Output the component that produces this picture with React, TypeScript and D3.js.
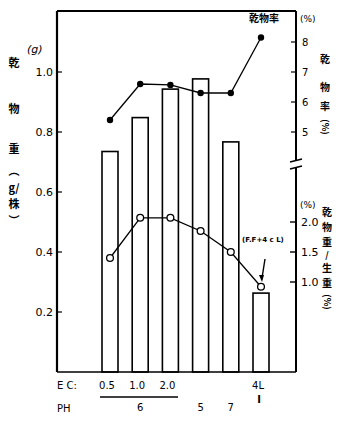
import * as d3 from "d3";

// categories (EC / pH treatments)
const categories = ["a", "b", "c", "d", "e", "f"];
const ecLabels = ["0.5", "1.0", "2.0", "", "", "4L"];
const phLabels = ["", "6", "", "5", "7", "I"];

// dry weight per plant (g) - bars, left axis
const dryWeight = [0.735, 0.848, 0.943, 0.977, 0.767, 0.263];
// dry matter ratio (%) - filled dots, upper right axis
const dryRatio = [5.4, 6.6, 6.57, 6.3, 6.3, 8.15];
// lower series (%) - open circles, lower right axis
const lowerRatio = [1.4, 2.07, 2.07, 1.85, 1.5, 0.92];

const leftTicks = [0.2, 0.4, 0.6, 0.8, 1.0];
const upperTicks = [5, 6, 7, 8];
const lowerTicks = [1.0, 1.5, 2.0];

const numFont = "'DejaVu Sans', sans-serif";
const cjkFont = "'Noto Sans CJK JP', sans-serif";

export default function App() {
  const left = 57;
  const right = 296;
  const top = 11;
  const bottom = 372;

  const x = d3.scalePoint<string>().domain(categories).range([110, 261]);
  const yLeft = d3.scaleLinear().domain([0, 1]).range([bottom, 72]);
  const yUp = d3.scaleLinear().domain([5, 8]).range([132, 42]);
  const yLow = d3.scaleLinear().domain([1, 2]).range([282, 222]);
  const barW = 16;

  const upLine = d3
    .line<number>()
    .x((_d, i) => x(categories[i]) as number)
    .y((d) => yUp(d));
  const lowLine = d3
    .line<number>()
    .x((_d, i) => x(categories[i]) as number)
    .y((d) => yLow(d));

  // vertical titles: one glyph per line
  const vertText = (
    chars: { t: string; y: number; s?: number }[],
    cx: number,
    size: number,
  ) => (
    <text
      textAnchor="middle"
      dominantBaseline="central"
      fontFamily={cjkFont}
      fontWeight="bold"
      fontSize={size}
    >
      {chars.map((c, i) => (
        <tspan key={i} x={cx} y={c.y} fontSize={c.s ?? size}>
          {c.t}
        </tspan>
      ))}
    </text>
  );

  // "(%)" set sideways as in a vertical title
  const sidePct = (cx: number, cy: number) => (
    <text
      transform={`translate(${cx},${cy}) rotate(90)`}
      textAnchor="middle"
      dominantBaseline="central"
      fontFamily={cjkFont}
      fontWeight="bold"
      fontSize={9}
    >
      (%)
    </text>
  );

  return (
    <svg
      width={355}
      height={421}
      style={{ position: "absolute", left: 0, top: 0, background: "#fff" }}
    >
      {/* bars */}
      {dryWeight.map((v, i) => (
        <rect
          key={i}
          x={(x(categories[i]) as number) - barW / 2}
          y={yLeft(v)}
          width={barW}
          height={bottom - yLeft(v)}
          fill="#fff"
          stroke="#000"
          strokeWidth={1.6}
        />
      ))}

      {/* frame */}
      <line x1={left} x2={right} y1={top} y2={top} stroke="#000" strokeWidth={2} />
      <line x1={left} x2={left} y1={top} y2={bottom} stroke="#000" strokeWidth={2.2} />
      <line x1={left} x2={right} y1={bottom} y2={bottom} stroke="#000" strokeWidth={1.6} />
      <line x1={right} x2={right} y1={top} y2={161} stroke="#000" strokeWidth={2} />
      <line x1={right} x2={right} y1={168} y2={bottom} stroke="#000" strokeWidth={2} />
      <line x1={290} x2={302} y1={162} y2={159} stroke="#000" strokeWidth={1.4} />
      <line x1={290} x2={302} y1={169} y2={166} stroke="#000" strokeWidth={1.4} />

      {/* left ticks */}
      {leftTicks.map((t) => (
        <g key={t}>
          <line x1={left} x2={left + 5} y1={yLeft(t)} y2={yLeft(t)} stroke="#000" strokeWidth={1.2} />
          <text
            x={left - 4}
            y={yLeft(t)}
            textAnchor="end"
            dominantBaseline="central"
            fontFamily={numFont}
            fontSize={11}
          >
            {t.toFixed(1)}
          </text>
        </g>
      ))}
      {/* upper right ticks */}
      {upperTicks.map((t) => (
        <g key={t}>
          <line x1={right - 5} x2={right} y1={yUp(t)} y2={yUp(t)} stroke="#000" strokeWidth={1.2} />
          <text
            x={right + 6}
            y={yUp(t)}
            dominantBaseline="central"
            fontFamily={numFont}
            fontSize={10}
          >
            {t}
          </text>
        </g>
      ))}
      {/* lower right ticks */}
      {lowerTicks.map((t) => (
        <g key={t}>
          <line x1={right - 6} x2={right} y1={yLow(t)} y2={yLow(t)} stroke="#000" strokeWidth={1.4} />
          <text
            x={right + 5}
            y={yLow(t)}
            dominantBaseline="central"
            fontFamily={numFont}
            fontSize={11}
          >
            {t.toFixed(1)}
          </text>
        </g>
      ))}

      {/* unit labels */}
      <text x={27} y={53} fontFamily={numFont} fontSize={11} fontStyle="italic">
        (g)
      </text>
      <text x={300} y={22} fontFamily={numFont} fontSize={9}>
        (%)
      </text>
      <text x={300} y={208} fontFamily={numFont} fontSize={9}>
        (%)
      </text>

      {/* axis titles (vertical) */}
      {vertText(
        [
          { t: "乾", y: 62 },
          { t: "物", y: 108 },
          { t: "重", y: 148 },
          { t: "︵", y: 170 },
          { t: "g/", y: 187 },
          { t: "株", y: 203 },
          { t: "︶", y: 220 },
        ],
        14,
        11,
      )}
      {vertText(
        [
          { t: "乾", y: 58 },
          { t: "物", y: 86 },
          { t: "率", y: 105 },
        ],
        325,
        10,
      )}
      {sidePct(325, 127)}
      {vertText(
        [
          { t: "乾", y: 211 },
          { t: "物", y: 226 },
          { t: "重", y: 241 },
          { t: "/", y: 254, s: 9 },
          { t: "生", y: 267 },
          { t: "重", y: 282 },
        ],
        327,
        10,
      )}
      {sidePct(327, 302)}

      {/* lines */}
      <path d={upLine(dryRatio) ?? ""} fill="none" stroke="#000" strokeWidth={1.3} />
      {dryRatio.map((v, i) => (
        <circle key={i} cx={x(categories[i])} cy={yUp(v)} r={3.2} fill="#000" />
      ))}
      <path d={lowLine(lowerRatio) ?? ""} fill="none" stroke="#000" strokeWidth={1.3} />
      {lowerRatio.map((v, i) => (
        <circle
          key={i}
          cx={x(categories[i])}
          cy={yLow(v)}
          r={3.4}
          fill="#fff"
          stroke="#000"
          strokeWidth={1.3}
        />
      ))}

      {/* annotations */}
      <text x={249} y={22} fontFamily={cjkFont} fontWeight="bold" fontSize={10}>
        乾物率
      </text>
      <text x={242} y={242} fontFamily={numFont} fontSize={7} fontWeight="bold">
        (F.F+4 c L)
      </text>
      <line x1={265} x2={262} y1={259} y2={278} stroke="#000" strokeWidth={1.4} />
      <path d="M259,275 L262,282 L264,275 Z" fill="#000" />

      {/* x labels */}
      <text x={57} y={389} fontFamily={numFont} fontSize={10}>
        E C:
      </text>
      <text x={57} y={412} fontFamily={numFont} fontSize={10}>
        PH
      </text>
      {ecLabels.map((l, i) => (
        <text
          key={i}
          x={(x(categories[i]) as number) - 3}
          y={389}
          textAnchor="middle"
          fontFamily={numFont}
          fontSize={10}
        >
          {l}
        </text>
      ))}
      <line x1={100} x2={178} y1={397} y2={397} stroke="#000" strokeWidth={1.4} />
      {phLabels.map((l, i) => (
        <text
          key={i}
          x={(x(categories[i]) as number) + (i === 5 ? -2 : 0)}
          y={i === 5 ? 403 : 411}
          textAnchor="middle"
          fontFamily={numFont}
          fontSize={10}
          fontWeight={i === 5 ? "bold" : "normal"}
        >
          {l}
        </text>
      ))}
    </svg>
  );
}
